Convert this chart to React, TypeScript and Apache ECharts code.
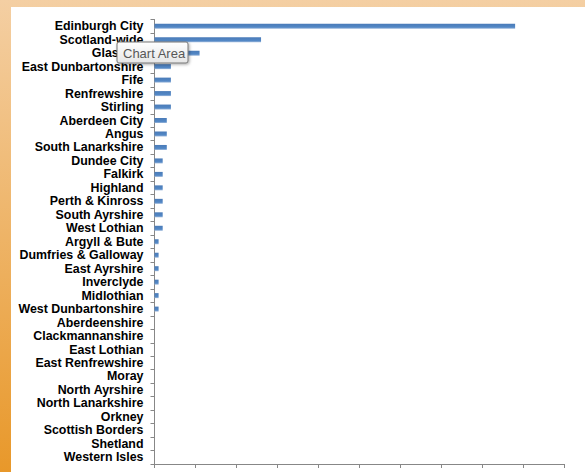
import React, { useEffect, useRef } from "react";
import * as echarts from "echarts";

const categories = [
  "Edinburgh City", "Scotland-wide", "Glasgow", "East Dunbartonshire", "Fife",
  "Renfrewshire", "Stirling", "Aberdeen City", "Angus", "South Lanarkshire",
  "Dundee City", "Falkirk", "Highland", "Perth & Kinross", "South Ayrshire",
  "West Lothian", "Argyll & Bute", "Dumfries & Galloway", "East Ayrshire",
  "Inverclyde", "Midlothian", "West Dunbartonshire", "Aberdeenshire",
  "Clackmannanshire", "East Lothian", "East Renfrewshire", "Moray",
  "North Ayrshire", "North Lanarkshire", "Orkney", "Scottish Borders",
  "Shetland", "Western Isles",
];

const values = [
  88, 26, 11, 4, 4,
  4, 4, 3, 3, 3,
  2, 2, 2, 2, 2,
  2, 1, 1, 1,
  1, 1, 1, 0,
  0, 0, 0, 0,
  0, 0, 0, 0,
  0, 0,
];

const xMin = 0;
const xMax = 100;
const xInterval = 10;

export default function App() {
  const ref = useRef<HTMLDivElement>(null);
  useEffect(() => {
    if (!ref.current) return;
    const chart = echarts.init(ref.current, undefined, { renderer: "svg" });
    chart.setOption({
      animation: false,
      backgroundColor: new echarts.graphic.LinearGradient(0, 0, 0, 1, [
        { offset: 0, color: "#F4CFA3" },
        { offset: 1, color: "#E8982A" },
      ]),
      grid: { left: 154.5, right: 20.7, top: 19.5, bottom: 8, containLabel: false },
      xAxis: {
        type: "value",
        min: xMin,
        max: xMax,
        interval: xInterval,
        axisLabel: { show: false },
        axisLine: { show: true, lineStyle: { color: "#878787", width: 1 } },
        axisTick: { show: true, length: 4, lineStyle: { color: "#878787" } },
        splitLine: { show: false },
      },
      yAxis: {
        type: "category",
        data: categories,
        inverse: true,
        axisLine: { show: true, lineStyle: { color: "#878787", width: 1 } },
        axisTick: { show: true, length: 4, lineStyle: { color: "#878787" } },
        axisLabel: {
          color: "#000",
          fontFamily: "Liberation Sans, Arial, sans-serif",
          fontWeight: "bold",
          fontSize: 12.4,
          margin: 11,
          interval: 0,
        },
      },
      series: [
        {
          type: "bar",
          data: values,
          barWidth: 5,
          itemStyle: {
            color: new echarts.graphic.LinearGradient(0, 0, 0, 1, [
              { offset: 0, color: "#4A7BB8" },
              { offset: 0.7, color: "#5388C6" },
              { offset: 1, color: "#9DB8DB" },
            ]),
          },
        },
      ],
      graphic: {
        elements: [
          {
            type: "rect",
            z: -10,
            silent: true,
            shape: { x: 11, y: 7, width: 574, height: 465 },
            style: { fill: "#FFFFFF" },
          },
          {
            type: "rect",
            zlevel: 1,
            z: 100,
            shape: { x: 117, y: 42, width: 71, height: 21, r: 2 },
            style: {
              fill: new echarts.graphic.LinearGradient(0, 0, 0, 1, [
                { offset: 0, color: "#FFFFFF" },
                { offset: 1, color: "#E6E6E6" },
              ]),
              stroke: "#767676",
              lineWidth: 1,
              shadowBlur: 3,
              shadowOffsetX: 1,
              shadowOffsetY: 1,
              shadowColor: "rgba(0,0,0,0.35)",
            },
          },
          {
            type: "text",
            zlevel: 1,
            z: 101,
            style: {
              x: 123,
              y: 53,
              text: "Chart Area",
              fill: "#575757",
              font: "13px Liberation Sans, Arial, sans-serif",
              verticalAlign: "middle",
            },
          },
        ],
      },
    });
    return () => chart.dispose();
  }, []);
  return (
    <div
      ref={ref}
      style={{ position: "fixed", left: 0, top: 0, width: 585, height: 472 }}
    />
  );
}
